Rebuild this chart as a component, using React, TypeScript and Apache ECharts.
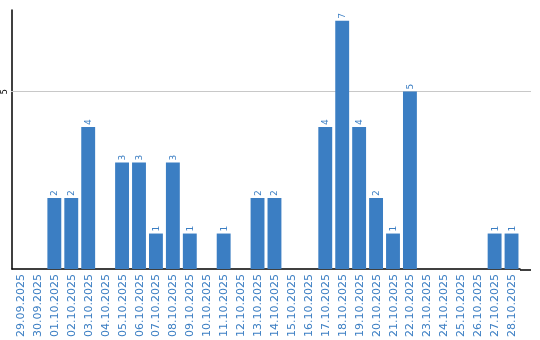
import React, { useEffect, useRef } from "react";
import * as echarts from "echarts";

const categories = [
  "29.09.2025", "30.09.2025", "01.10.2025", "02.10.2025", "03.10.2025",
  "04.10.2025", "05.10.2025", "06.10.2025", "07.10.2025", "08.10.2025",
  "09.10.2025", "10.10.2025", "11.10.2025", "12.10.2025", "13.10.2025",
  "14.10.2025", "15.10.2025", "16.10.2025", "17.10.2025", "18.10.2025",
  "19.10.2025", "20.10.2025", "21.10.2025", "22.10.2025", "23.10.2025",
  "24.10.2025", "25.10.2025", "26.10.2025", "27.10.2025", "28.10.2025",
];
const values = [0, 0, 2, 2, 4, 0, 3, 3, 1, 3, 1, 0, 1, 0, 2, 2, 0, 0, 4, 7, 4, 2, 1, 5, 0, 0, 0, 0, 1, 1];
const yTicks = [5];

const BLUE = "#3b7ec3";

export default function App() {
  const ref = useRef<HTMLDivElement>(null);
  useEffect(() => {
    if (!ref.current) return;
    const chart = echarts.init(ref.current, null, { renderer: "svg" });
    chart.setOption({
      animation: false,
      textStyle: { fontFamily: "DejaVu Sans" },
      grid: { left: 10, right: 20, top: 10, bottom: 70, containLabel: false },
      xAxis: {
        type: "category",
        data: categories,
        axisLine: { show: true, lineStyle: { color: "#000", width: 1.5 } },
        axisTick: { show: false },
        axisLabel: {
          rotate: 90,
          interval: 0,
          color: BLUE,
          fontSize: 11,
          fontFamily: "DejaVu Sans",
          margin: 5,
        },
      },
      yAxis: {
        type: "value",
        min: 0,
        max: 7.3,
        interval: 5,
        axisLine: { show: true, lineStyle: { color: "#000", width: 1.5 } },
        axisTick: { show: false },
        splitLine: { show: false },
        axisLabel: {
          color: "#000",
          fontSize: 8,
          rotate: 90,
          margin: 4,
          formatter: (v: number) => (yTicks.includes(v) ? String(v) : ""),
        },
      },
      graphic: [
        {
          type: "line",
          shape: { x1: 520, y1: 270, x2: 531, y2: 270 },
          style: { stroke: "#000", lineWidth: 1.5 },
        },
      ],
      series: [
        {
          type: "bar",
          data: values,
          barCategoryGap: "18%",
          itemStyle: { color: BLUE },
          z: 3,
          label: {
            show: true,
            position: "top",
            rotate: 90,
            align: "left",
            verticalAlign: "middle",
            distance: 2,
            color: BLUE,
            fontSize: 9,
            fontFamily: "DejaVu Sans",
            formatter: (p: any) => (p.value ? String(p.value) : ""),
          },
          markLine: {
            silent: true,
            symbol: "none",
            z: 1,
            label: { show: false },
            lineStyle: { color: "#c8c8c8", width: 1, type: "solid" },
            data: yTicks.map((t) => [
              { xAxis: 0, yAxis: t, x: 11 },
              { yAxis: t, x: 531 },
            ]),
          },
        },
      ],
    });
    return () => chart.dispose();
  }, []);
  return (
    <div
      ref={ref}
      style={{ position: "fixed", left: 0, top: 0, width: 540, height: 340 }}
    />
  );
}
